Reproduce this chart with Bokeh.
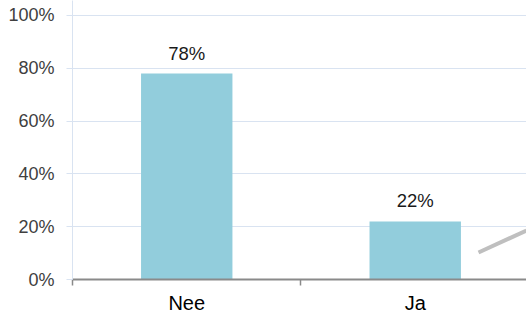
from bokeh.plotting import figure
from bokeh.models import ColumnDataSource, FixedTicker, Range1d, PolyAnnotation
from bokeh.core.properties import value
from bokeh.embed import file_html
from bokeh.resources import INLINE

categories = ["Nee", "Ja"]
shares = [0.78, 0.22]
share_labels = ["78%", "22%"]
y_ticks = [0, 0.2, 0.4, 0.6, 0.8, 1.0]
y_tick_labels = ["0%", "20%", "40%", "60%", "80%", "100%"]

xpos = [i + 0.5 for i in range(len(categories))]
src = ColumnDataSource(dict(x=xpos, top=shares, lbl=share_labels))

p = figure(width=526, height=316, output_backend="svg", toolbar_location=None,
           x_range=Range1d(0, 1.987), y_range=Range1d(0, 1.0568),
           min_border_left=72, min_border_right=0, min_border_top=0, min_border_bottom=37)
p.outline_line_color = None
p.background_fill_color = "white"
p.border_fill_color = "white"

p.vbar(x="x", top="top", width=0.4, bottom=0, source=src, fill_color="#92CDDC", line_color=None)
p.text(x="x", y="top", text="lbl", source=src, text_align="center", text_baseline="bottom",
       y_offset=-10, text_font_size="18.5px", text_color="#1a1a1a", text_font=value("Liberation Sans"))

# y axis
p.yaxis.ticker = FixedTicker(ticks=y_ticks)
p.yaxis.major_label_overrides = {t: l for t, l in zip(y_ticks, y_tick_labels)}
p.yaxis.axis_line_color = "#d9e3f1"
p.yaxis.major_tick_line_color = "#d9e3f1"
p.yaxis.major_tick_in = 0
p.yaxis.major_tick_out = 6
p.yaxis.minor_tick_line_color = None
p.yaxis.major_label_standoff = 12
p.yaxis.major_label_text_font_size = "18px"
p.yaxis.major_label_text_color = "#404040"
p.yaxis.major_label_text_font = "Liberation Sans"
p.ygrid.ticker = FixedTicker(ticks=y_ticks)
p.ygrid.grid_line_color = "#d9e3f1"
p.xgrid.grid_line_color = None

# x axis
p.xaxis.ticker = FixedTicker(ticks=xpos, minor_ticks=list(range(len(categories) + 1)))
p.xaxis.major_label_overrides = {x: c for x, c in zip(xpos, categories)}
p.xaxis.axis_line_color = "#8a8a8a"
p.xaxis.axis_line_width = 2
p.xaxis.major_tick_line_color = None
p.xaxis.major_tick_in = 0
p.xaxis.major_tick_out = 0
p.xaxis.minor_tick_line_color = "#8a8a8a"
p.xaxis.minor_tick_line_width = 1.5
p.xaxis.minor_tick_in = 0
p.xaxis.minor_tick_out = 6
p.xaxis.major_label_standoff = 6
p.xaxis.major_label_text_font_size = "20px"
p.xaxis.major_label_text_color = "#000000"
p.xaxis.major_label_text_font = "Liberation Sans"

# decorative strokes from the surrounding slide (connector line, rounded frame corner)
p.add_layout(PolyAnnotation(xs=[478, 526], ys=[252, 230], xs_units="canvas", ys_units="canvas",
                            fill_alpha=0, line_alpha=1, line_color="#bfbfbf", line_width=4))
p.add_layout(PolyAnnotation(xs=[0, 5], ys=[307, 316], xs_units="canvas", ys_units="canvas",
                            fill_alpha=0, line_alpha=1, line_color="#bfbfbf", line_width=2))

open("out.html", "w").write(file_html(p, INLINE))
